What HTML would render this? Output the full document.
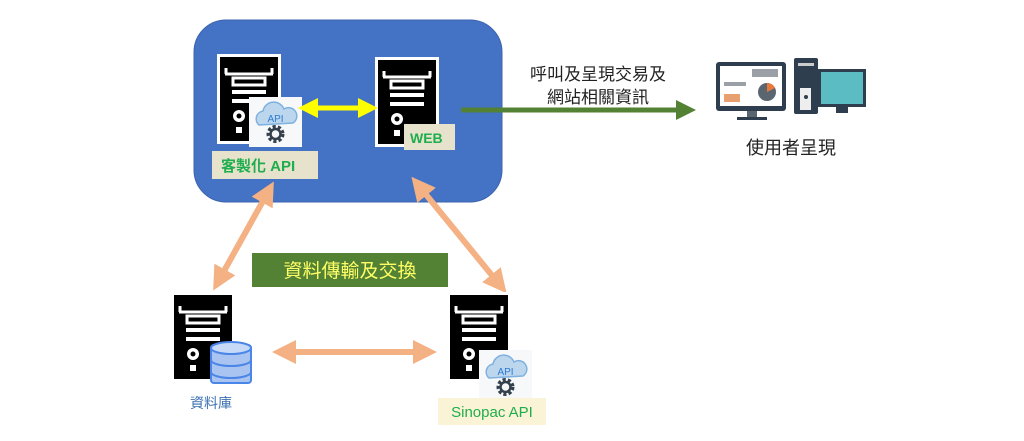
<!DOCTYPE html>
<html><head><meta charset="utf-8"><style>
html,body{margin:0;padding:0;background:#fff;width:1024px;height:441px;overflow:hidden}
svg{display:block}
text{font-family:"Liberation Sans","Noto Sans CJK TC",sans-serif}
</style></head><body>
<svg width="1024" height="441" viewBox="0 0 1024 441">
<defs>
<g id="srv">
<rect x="0" y="0" width="64" height="90" fill="#fff"/>
<rect x="3" y="3" width="58" height="84" fill="#000"/>
<path d="M8 20 H56" stroke="#fff" stroke-width="3"/>
<path d="M9 20 V14 M55 20 V14" stroke="#fff" stroke-width="3"/>
<rect x="16" y="24" width="32" height="7" fill="none" stroke="#fff" stroke-width="3"/>
<rect x="15" y="36" width="34" height="4" fill="#fff"/>
<rect x="15" y="45" width="34" height="4" fill="#fff"/>
<circle cx="22" cy="62" r="6" fill="#fff"/><circle cx="22" cy="62" r="2.5" fill="#000"/>
<rect x="19" y="73" width="6" height="6" fill="#fff"/>
</g>
<g id="api">
<rect x="0" y="0" width="53" height="50" fill="#f6f8fa"/>
<path d="M10 28 a8 8 0 0 1 4 -14 a11 11 0 0 1 21 -2 a8 8 0 0 1 9 14 z" fill="#bcd6ee" stroke="#7fb1e0" stroke-width="1.5"/>
<text x="26.5" y="25" font-size="10" fill="#2f7bd0" text-anchor="middle">API</text>
<circle cx="26.5" cy="37" r="7" fill="none" stroke="#34404c" stroke-width="4" stroke-dasharray="3 2"/>
<circle cx="26.5" cy="37" r="5" fill="none" stroke="#34404c" stroke-width="2.5"/>
</g>
<marker id="ao" viewBox="0 0 10 10" refX="5" refY="5" markerWidth="4" markerHeight="4" orient="auto-start-reverse"><path d="M0 0 L10 5 L0 10 z" fill="#F4B183"/></marker>
<marker id="ay" viewBox="0 0 10 10" refX="5" refY="5" markerWidth="4" markerHeight="4" orient="auto-start-reverse"><path d="M0 0 L10 5 L0 10 z" fill="#FFFF00"/></marker>
<marker id="ag" viewBox="0 0 10 10" refX="5" refY="5" markerWidth="4" markerHeight="4" orient="auto"><path d="M0 0 L10 5 L0 10 z" fill="#548235"/></marker>
</defs>
<rect x="194" y="20" width="308" height="182" rx="32" fill="#4472C4" stroke="#3c64ad"/>
<use href="#srv" x="217" y="54"/>
<use href="#api" x="249" y="97"/>
<rect x="212" y="151" width="106" height="28" fill="#e6e2cc"/>
<text x="221" y="171" font-size="15" font-weight="bold" fill="#1fae4d">客製化 API</text>
<use href="#srv" x="375" y="57"/>
<rect x="404" y="124" width="51" height="26" fill="#e6e2cc"/>
<text x="410" y="143" font-size="14" font-weight="bold" fill="#1fae4d">WEB</text>
<line x1="308" y1="108" x2="368" y2="108" stroke="#FFFF00" stroke-width="5" marker-start="url(#ay)" marker-end="url(#ay)"/>
<line x1="461" y1="110" x2="686" y2="110" stroke="#548235" stroke-width="5" marker-end="url(#ag)"/>
<text x="598" y="80" font-size="17" fill="#222" text-anchor="middle">呼叫及呈現交易及</text>
<text x="598" y="103" font-size="17" fill="#222" text-anchor="middle">網站相關資訊</text>
<!-- user icons -->
<rect x="716" y="62" width="70" height="49" rx="3" fill="#2e3e4e"/>
<rect x="720" y="66" width="62" height="40" fill="#fff"/>
<rect x="752" y="69" width="26" height="8" fill="#9aa0a6"/>
<circle cx="767" cy="92" r="9" fill="#5a6570"/><path d="M767 92 V83 A9 9 0 0 1 775 88 z" fill="#e87a3c"/>
<rect x="724" y="82" width="22" height="4" fill="#9aa0a6"/>
<rect x="724" y="94" width="16" height="8" fill="#e8a070"/>
<rect x="747" y="111" width="10" height="6" fill="#5a6570"/><rect x="737" y="117" width="30" height="3" fill="#2e3e4e"/>
<rect x="794" y="58" width="24" height="56" rx="2" fill="#2e3e4e"/>
<rect x="798" y="63" width="16" height="3" fill="#ccc"/>
<rect x="800" y="88" width="11" height="22" fill="#eee"/><circle cx="806" cy="97" r="2" fill="#2e3e4e"/>
<rect x="818" y="69" width="48" height="38" fill="#2e3e4e"/><rect x="821" y="72" width="42" height="32" fill="#5bbcc4"/>
<rect x="836" y="107" width="12" height="6" fill="#2e3e4e"/>
<text x="791" y="154" font-size="18" fill="#222" text-anchor="middle">使用者呈現</text>
<!-- orange arrows -->
<line x1="268" y1="192" x2="219" y2="280" stroke="#F4B183" stroke-width="6" marker-start="url(#ao)" marker-end="url(#ao)"/>
<line x1="419" y1="186" x2="499" y2="284" stroke="#F4B183" stroke-width="6" marker-start="url(#ao)" marker-end="url(#ao)"/>
<line x1="284" y1="352" x2="425" y2="352" stroke="#F4B183" stroke-width="6" marker-start="url(#ao)" marker-end="url(#ao)"/>
<rect x="252" y="253" width="196" height="34" fill="#548235"/>
<text x="350" y="277" font-size="19" fill="#ffff66" text-anchor="middle">資料傳輸及交換</text>
<use href="#srv" x="171" y="292" transform="translate(0,0)"/>
<g>
<rect x="211" y="345" width="40" height="38" rx="3" fill="#a9c4f0" stroke="#4a86e8" stroke-width="2"/>
<ellipse cx="231" cy="348" rx="20" ry="6" fill="#c6d9f7" stroke="#4a86e8" stroke-width="2"/>
<path d="M211 360 a20 6 0 0 0 40 0 M211 372 a20 6 0 0 0 40 0" fill="none" stroke="#4a86e8" stroke-width="2"/>
</g>
<text x="211" y="408" font-size="14" fill="#3b6fb0" text-anchor="middle">資料庫</text>
<use href="#srv" x="447" y="292"/>
<use href="#api" x="479" y="350"/>
<rect x="438" y="398" width="108" height="27" fill="#fbf3d6"/>
<text x="492" y="417" font-size="15" fill="#1fae4d" text-anchor="middle">Sinopac API</text>
</svg>
</body></html>
